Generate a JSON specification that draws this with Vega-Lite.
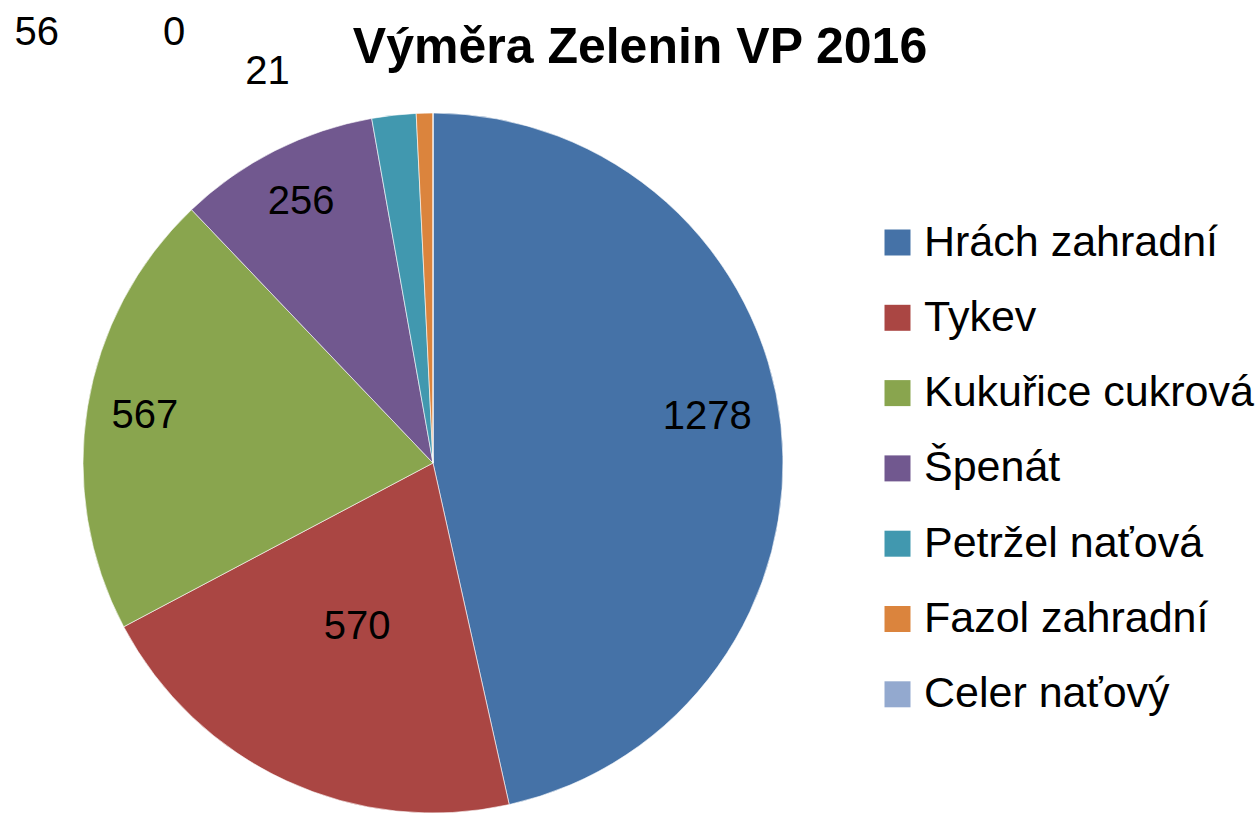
{
  "$schema": "https://vega.github.io/schema/vega-lite/v6.json",
  "autosize": {"type": "none"},
  "width": 866,
  "height": 704,
  "padding": {"left": 0, "top": 111, "right": 393, "bottom": 0},
  "background": "white",
  "title": {
    "text": "Výměra Zelenin VP 2016",
    "font": "Liberation Sans",
    "fontSize": 50,
    "fontWeight": "bold",
    "color": "black",
    "anchor": "middle",
    "frame": "group",
    "dx": 207,
    "dy": 62,
    "offset": 0
  },
  "data": {
    "values": [
      {"plodina": "Hrách zahradní", "value": 1278},
      {"plodina": "Tykev", "value": 570},
      {"plodina": "Kukuřice cukrová", "value": 567},
      {"plodina": "Špenát", "value": 256},
      {"plodina": "Petržel naťová", "value": 56},
      {"plodina": "Fazol zahradní", "value": 21},
      {"plodina": "Celer naťový", "value": 0}
    ]
  },
  "encoding": {
    "theta": {"field": "value", "type": "quantitative", "stack": true},
    "order": {"field": "value", "type": "quantitative", "sort": "descending"}
  },
  "layer": [
    {
      "mark": {"type": "arc", "outerRadius": 350, "stroke": "white", "strokeWidth": 0.6},
      "encoding": {
        "color": {
          "field": "plodina",
          "type": "nominal",
          "scale": {
            "domain": ["Hrách zahradní", "Tykev", "Kukuřice cukrová", "Špenát", "Petržel naťová", "Fazol zahradní", "Celer naťový"],
            "range": ["#4572A7", "#AA4643", "#89A54E", "#71588F", "#4198AF", "#DB843D", "#93A9CF"]
          },
          "legend": {
            "title": null,
            "orient": "none",
            "legendX": 876,
            "legendY": 110,
            "padding": 0,
            "symbolType": "square",
            "symbolSize": 676,
            "symbolStrokeWidth": 0,
            "symbolOpacity": 1,
            "labelFont": "Liberation Sans",
            "labelFontSize": 43,
            "labelColor": "black",
            "labelOffset": 5,
            "labelLimit": 400,
            "rowPadding": 31.3
          }
        }
      }
    },
    {
      "mark": {"type": "text", "radius": 276, "dy": -16, "font": "Liberation Sans", "fontSize": 40, "color": "black"},
      "encoding": {
        "text": {
          "condition": {"test": "datum.plodina == 'Hrách zahradní'", "field": "value", "type": "quantitative"},
          "value": ""
        }
      }
    },
    {
      "mark": {"type": "text", "radius": 292, "font": "Liberation Sans", "fontSize": 40, "color": "black"},
      "encoding": {
        "text": {
          "condition": {"test": "datum.plodina == 'Kukuřice cukrová' || datum.plodina == 'Špenát'", "field": "value", "type": "quantitative"},
          "value": ""
        }
      }
    },
    {
      "mark": {"type": "text", "radius": 181, "font": "Liberation Sans", "fontSize": 40, "color": "black"},
      "encoding": {
        "text": {
          "condition": {"test": "datum.plodina == 'Tykev'", "field": "value", "type": "quantitative"},
          "value": ""
        }
      }
    },
    {
      "mark": {"type": "text", "radius": 350, "dx": -357, "dy": -82, "font": "Liberation Sans", "fontSize": 40, "color": "black"},
      "encoding": {
        "text": {
          "condition": {"test": "datum.plodina == 'Petržel naťová'", "field": "value", "type": "quantitative"},
          "value": ""
        }
      }
    },
    {
      "mark": {"type": "text", "radius": 350, "dx": -157, "dy": -41, "font": "Liberation Sans", "fontSize": 40, "color": "black"},
      "encoding": {
        "text": {
          "condition": {"test": "datum.plodina == 'Fazol zahradní'", "field": "value", "type": "quantitative"},
          "value": ""
        }
      }
    },
    {
      "mark": {"type": "text", "radius": 350, "dx": -259, "dy": -80, "font": "Liberation Sans", "fontSize": 40, "color": "black"},
      "encoding": {
        "text": {
          "condition": {"test": "datum.plodina == 'Celer naťový'", "field": "value", "type": "quantitative"},
          "value": ""
        }
      }
    }
  ],
  "config": {"view": {"stroke": null}}
}
